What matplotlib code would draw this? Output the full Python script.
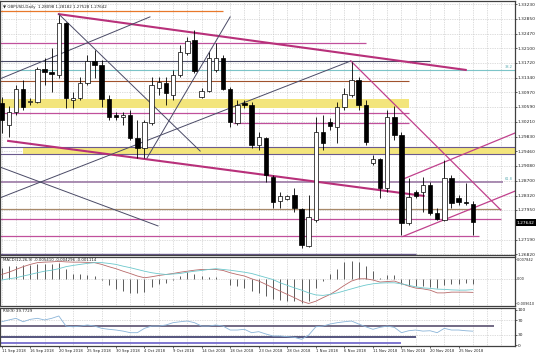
import matplotlib
matplotlib.use("Agg")
import matplotlib.pyplot as plt
import numpy as np
from matplotlib.patches import Rectangle

# ---------------- data ----------------
opens = [1.3069, 1.3013, 1.3046, 1.3105, 1.3072, 1.3072, 1.3156, 1.3149, 1.3141, 1.3274,
         1.3077, 1.3082, 1.3121, 1.3177, 1.3167, 1.3080, 1.3038, 1.3033, 1.3038, 1.2979,
         1.2954, 1.3018, 1.3108, 1.3121, 1.3090, 1.3141, 1.3197, 1.3231, 1.3085, 1.3100,
         1.3154, 1.3185, 1.3105, 1.3018, 1.3069, 1.3064, 1.2962, 1.2979, 1.2880, 1.2818,
         1.2823, 1.2833, 1.2797, 1.2703, 1.2769, 1.2995, 1.3021, 1.3008, 1.3059, 1.3090,
         1.3128, 1.3064, 1.2915, 1.2926, 1.2851, 1.3033, 1.2987, 1.2761, 1.2841, 1.2841,
         1.2859, 1.2787, 1.2769, 1.2877, 1.2826, 1.2815, 1.2810]
highs = [1.3085, 1.3062, 1.3115, 1.3128, 1.3082, 1.3161, 1.3185, 1.3210, 1.3295, 1.3276,
         1.3097, 1.3136, 1.3192, 1.3205, 1.3179, 1.3090, 1.3046, 1.3046, 1.3051, 1.3026,
         1.3026, 1.3136, 1.3136, 1.3136, 1.3154, 1.3218, 1.3238, 1.3256, 1.3108, 1.3200,
         1.3223, 1.3192, 1.3110, 1.3077, 1.3077, 1.3072, 1.2995, 1.2982, 1.2885, 1.2841,
         1.2833, 1.2851, 1.2800, 1.2833, 1.3033, 1.3038, 1.3031, 1.3072, 1.3108, 1.3174,
         1.3136, 1.3077, 1.2936, 1.2928, 1.3051, 1.3062, 1.2995, 1.2877, 1.2846, 1.2880,
         1.2867, 1.2800, 1.2923, 1.2885, 1.2833, 1.2864, 1.2818]
lows = [1.2992, 1.2982, 1.3038, 1.3051, 1.3064, 1.3069, 1.3115, 1.3097, 1.3133, 1.3056,
        1.3056, 1.3077, 1.3115, 1.3133, 1.3059, 1.3026, 1.3026, 1.3013, 1.2974, 1.2928,
        1.2928, 1.3013, 1.3090, 1.3064, 1.3077, 1.3136, 1.3192, 1.3146, 1.3082, 1.3097,
        1.3149, 1.3103, 1.3008, 1.3013, 1.3056, 1.2954, 1.2949, 1.2867, 1.2800, 1.2800,
        1.2820, 1.2790, 1.2697, 1.2700, 1.2764, 1.2949, 1.3000, 1.2967, 1.3051, 1.3085,
        1.3051, 1.2962, 1.2910, 1.2826, 1.2841, 1.2974, 1.2731, 1.2756, 1.2826, 1.2790,
        1.2782, 1.2769, 1.2766, 1.2800, 1.2808, 1.2808, 1.2731]
closes = [1.3026, 1.3046, 1.3105, 1.3059, 1.3074, 1.3156, 1.3149, 1.3143, 1.3274, 1.3082,
          1.3082, 1.3121, 1.3177, 1.3167, 1.3080, 1.3033, 1.3033, 1.3038, 1.2979, 1.2954,
          1.3021, 1.3115, 1.3123, 1.3095, 1.3141, 1.3200, 1.3228, 1.3151, 1.3100, 1.3185,
          1.3185, 1.3105, 1.3021, 1.3064, 1.3064, 1.2962, 1.2982, 1.2885, 1.2815, 1.2831,
          1.2831, 1.2800, 1.2705, 1.2777, 1.2995, 1.2967, 1.3010, 1.3059, 1.3092, 1.3128,
          1.3064, 1.2969, 1.2926, 1.2851, 1.3033, 1.2987, 1.2761, 1.2828, 1.2831, 1.2859,
          1.2787, 1.2772, 1.2877, 1.2813, 1.2815, 1.2813, 1.27642]

macd_hist = [0.0044, 0.0050, 0.0050, 0.0053, 0.0053, 0.0057, 0.0057, 0.0057, 0.0064, 0.0037,
             0.0017, 0.0017, 0.0013, 0.0011, -0.0003, -0.0024, -0.0040, -0.0049, -0.0058, -0.0058,
             -0.0053, -0.0033, -0.0022, -0.0016, -0.0003, 0.0011, 0.0026, 0.0017, 0.0011, 0.0008,
             0.0008, 0.0000, -0.0026, -0.0029, -0.0036, -0.0049, -0.0056, -0.0069, -0.0082, -0.0085,
             -0.0089, -0.0089, -0.0095, -0.0089, -0.0036, -0.0007, 0.0017, 0.0037, 0.0066, 0.0070,
             0.0066, 0.0050, 0.0030, 0.0002, 0.0013, 0.0013, -0.0022, -0.0029, -0.0029, -0.0029,
             -0.0032, -0.0036, -0.0026, -0.0022, -0.0022, -0.0016, -0.0019]
macd_main = [0.0017, 0.0026, 0.0037, 0.0048, 0.0057, 0.0064, 0.0066, 0.0067, 0.0069, 0.0067,
             0.0066, 0.0066, 0.0065, 0.0064, 0.0057, 0.0048, 0.0040, 0.0030, 0.0021, 0.0011,
             0.0004, 0.0008, 0.0013, 0.0017, 0.0021, 0.0026, 0.0030, 0.0034, 0.0037, 0.0037,
             0.0037, 0.0033, 0.0024, 0.0017, 0.0011, 0.0000, -0.0009, -0.0022, -0.0036, -0.0049,
             -0.0062, -0.0075, -0.0089, -0.0098, -0.0089, -0.0075, -0.0062, -0.0045, -0.0026, -0.0009,
             0.0000, 0.0000, -0.0005, -0.0013, -0.0011, -0.0009, -0.0019, -0.0029, -0.0037, -0.0040,
             -0.0045, -0.0056, -0.0056, -0.0053, -0.0053, -0.0053, -0.0054]
macd_signal = [-0.0005, 0.0000, 0.0004, 0.0011, 0.0017, 0.0024, 0.0030, 0.0034, 0.0040, 0.0048,
               0.0053, 0.0057, 0.0061, 0.0064, 0.0064, 0.0061, 0.0057, 0.0050, 0.0044, 0.0037,
               0.0030, 0.0024, 0.0020, 0.0017, 0.0019, 0.0021, 0.0026, 0.0030, 0.0033, 0.0037,
               0.0040, 0.0037, 0.0034, 0.0030, 0.0026, 0.0021, 0.0013, 0.0005, -0.0003, -0.0016,
               -0.0026, -0.0036, -0.0045, -0.0056, -0.0064, -0.0066, -0.0062, -0.0056, -0.0048, -0.0040,
               -0.0032, -0.0025, -0.0020, -0.0017, -0.0016, -0.0016, -0.0020, -0.0026, -0.0032, -0.0036,
               -0.0038, -0.0041, -0.0042, -0.0044, -0.0045, -0.0045, -0.0043]
rsi = [66, 71, 75.5, 66, 72.7, 75.5, 71, 75.5, 82, 54,
       52, 54, 57, 54, 47.7, 45, 43, 40, 35.6, 35.6,
       47.7, 54, 54, 57, 63.4, 66, 68, 63.4, 54, 54,
       57, 54, 43, 43, 45, 35.6, 38.4, 32, 26.4, 26.4,
       24.5, 22.7, 17.1, 29, 52, 54, 59.7, 63.4, 66, 68,
       59.7, 52, 45, 50.5, 54, 50.5, 35.6, 41, 43, 40,
       41, 35.6, 47.7, 43, 43, 41, 39.8]

date_labels = ["11 Sep 2018", "16 Sep 2018", "20 Sep 2018", "25 Sep 2018", "30 Sep 2018",
               "4 Oct 2018", "9 Oct 2018", "14 Oct 2018", "18 Oct 2018", "23 Oct 2018",
               "28 Oct 2018", "1 Nov 2018", "6 Nov 2018", "11 Nov 2018", "15 Nov 2018",
               "20 Nov 2018", "25 Nov 2018"]
date_label_bars = list(range(0, 68, 4))
price_ticks = [1.33230, 1.32850, 1.32470, 1.32100, 1.31720, 1.31340, 1.30970, 1.30590,
               1.30210, 1.29830, 1.29460, 1.29080, 1.28700, 1.28320, 1.27950, 1.27190, 1.26820]
macd_ticks = [0.007842, 0.0, -0.009610]
macd_tick_labels = ["0.007842", "0.00", "-0.009610"]
rsi_ticks = [100, 70, 30, 0]

# drawn objects (price, from bar, to bar, colour, width)
h_levels = [
    (1.3305, -0.3, 31.0, '#e8782a', 0.9),
    (1.3223, -0.3, 51.0, '#c0509c', 0.9),
    (1.3177, -0.3, 60.0, '#4a4a66', 0.8),
    (1.3153, -0.3, 72.0, '#7cc4c8', 0.8),
    (1.3126, -0.3, 57.1, '#a0522d', 0.8),
    (1.3044, -0.3, 57.1, '#c0509c', 0.9),
    (1.3018, 32.4, 57.1, '#c0509c', 0.9),
    (1.2957, -0.3, 72.0, '#6a5a8e', 0.8),
    (1.2939, -0.3, 72.0, '#6a5a8e', 0.8),
    (1.2867, -0.3, 70.2, '#9c7aa6', 1.2),
    (1.2797, -0.3, 69.9, '#a88a6a', 0.9),
    (1.2772, -0.3, 69.9, '#c0509c', 0.9),
    (1.2728, -0.3, 66.8, '#c0509c', 0.9),
    (1.2682, -0.3, 58.0, '#6a5a8e', 1.0),
]
bands = [(1.3056, 1.3080, -0.3, 57.1), (1.2939, 1.2957, 3.0, 72.0)]
trend_lines = [
    (8.0, 1.3297, 65.0, 1.3154, '#b8307a', 1.5),
    (0.9, 1.2972, 59.1, 1.2831, '#b8307a', 1.5),
    (8.0, 1.3297, 27.8, 1.2946, '#4a4a66', 0.7),
    (20.35, 1.2928, 32.0, 1.3290, '#4a4a66', 0.7),
    (-0.24, 1.3131, 20.77, 1.3290, '#4a4a66', 0.7),
    (-0.24, 1.2826, 48.9, 1.3177, '#4a4a66', 0.7),
    (-0.24, 1.2905, 21.9, 1.2754, '#4a4a66', 0.7),
    (48.9, 1.3177, 69.9, 1.2795, '#c0408c', 0.9),
    (56.2, 1.2874, 72.0, 1.2993, '#c0408c', 0.9),
    (56.2, 1.2727, 72.0, 1.2844, '#c0408c', 0.9),
]
rsi_levels = [(54.2, -0.3, 69.0, '#5a5070', 1.2), (24.4, -0.3, 58.0, '#383868', 1.2),
              (7.8, -0.3, 56.0, '#6a60c8', 1.2)]

# ---------------- figure ----------------
W, H = 536, 357
fig = plt.figure(figsize=(W / 100, H / 100), dpi=100)
fig.patch.set_facecolor('white')

def fy(py):
    return 1 - py / H

axw = 515 / W
ax = fig.add_axes([0, fy(255), axw, (255 - 1) / H])
axm = fig.add_axes([0, fy(306), axw, (306 - 256.5) / H])
axr = fig.add_axes([0, fy(346), axw, (346 - 307.5) / H])

n = len(closes)
x = np.arange(n)
o = np.array(opens); c = np.array(closes); hh = np.array(highs); ll = np.array(lows)
XL = (-0.24, 71.9)

grid_kw = dict(color='#bdbdbd', linestyle=(0, (1, 1.5)), linewidth=0.5)
for a in (ax, axm, axr):
    a.set_xlim(*XL)
    a.set_xticks(range(0, 72, 2), minor=True)
    a.grid(True, which='minor', axis='x', **grid_kw)
    a.set_axisbelow(True)
    for s in a.spines.values():
        s.set_color('#404040')
        s.set_linewidth(0.9)
    a.yaxis.tick_right()
    a.tick_params(axis='y', which='major', direction='out', length=1.5, width=0.5,
                  pad=0.6, labelsize=3.2, colors='#222222')
    a.tick_params(axis='x', which='minor', length=0)

# price panel
ax.set_ylim(1.26795, 1.33307)
ax.set_yticks(price_ticks)
ax.set_yticklabels([f"{v:.5f}" for v in price_ticks])
ax.grid(True, which='major', axis='y', **grid_kw)
ax.set_xticks([])

for lo, hi, x0, x1 in bands:
    ax.fill_between([x0, x1], lo, hi, color='#f3e57c', lw=0, zorder=1)
for p, x0, x1, col, lw in h_levels:
    ax.plot([x0, x1], [p, p], color=col, lw=lw, zorder=2, solid_capstyle='butt')
for x0, p0, x1, p1, col, lw in trend_lines:
    ax.plot([x0, x1], [p0, p1], color=col, lw=lw, zorder=2)

up = c >= o
body_lo = np.minimum(o, c)
body_h = np.maximum(np.abs(c - o), 0.00007)
ax.vlines(x, ll, hh, color='black', lw=0.6, zorder=3)
ax.bar(x, body_h, bottom=body_lo, width=0.62,
       color=['white' if u else 'black' for u in up],
       edgecolor='black', linewidth=0.5, zorder=4)

ax.text(0.006, 0.985, "\u25bc GBPUSD,Daily  1.28098 1.28182 1.27528 1.27642",
        transform=ax.transAxes, fontsize=2.9, va='top', ha='left', color='#222222')
ax.text(71.6, 1.3156, "38.2", fontsize=2.6, color='#5aaab0', ha='right', va='bottom', zorder=5)
ax.text(71.6, 1.2869, "61.8", fontsize=2.6, color='#5aaab0', ha='right', va='bottom', zorder=5)

# current price box
fig.add_artist(Rectangle((515.5 / W, fy(226)), 20.5 / W, 7 / H, transform=fig.transFigure,
                         facecolor='black', edgecolor='black', lw=0))
fig.text(517 / W, fy(222.5), "1.27642", fontsize=3.2, color='white', va='center', ha='left')

# MACD panel
axm.set_ylim(-0.010798, 0.008834)
axm.vlines(x, 0, macd_hist, color='#5a5a5a', lw=0.7, zorder=3)
axm.plot(x, macd_main, color='#b86a6a', lw=0.6, zorder=4)
axm.plot(x, macd_signal, color='#6cc8cc', lw=0.6, zorder=4)
axm.set_yticks(macd_ticks)
axm.set_yticklabels(macd_tick_labels)
axm.tick_params(axis='y', which='major', length=1.0, pad=0.3, labelsize=2.55)
axm.axhline(0, **grid_kw)
axm.set_xticks([])
axm.text(0.006, 0.96, "MACD(12,26,9) -0.005410 -0.004296 -0.001114", transform=axm.transAxes,
         fontsize=2.8, va='top', ha='left', color='#222222')

# RSI panel
axr.set_ylim(-1.4, 105.6)
for lv in (70, 30):
    axr.axhline(lv, **grid_kw)
for p, x0, x1, col, lw in rsi_levels:
    axr.plot([x0, x1], [p, p], color=col, lw=lw, zorder=2, solid_capstyle='butt')
axr.plot(x, rsi, color='#8ab4d8', lw=0.6, zorder=4)
axr.set_yticks(rsi_ticks)
axr.set_yticklabels([str(v) for v in rsi_ticks])
axr.text(0.006, 0.95, "RSI(9) 39.7729", transform=axr.transAxes,
         fontsize=2.8, va='top', ha='left', color='#222222')
axr.set_xticks(date_label_bars)
axr.set_xticklabels(date_labels)
axr.tick_params(axis='x', which='major', direction='out', length=1.5, width=0.5, pad=0.8,
                labelsize=2.7, colors='#222222')
for t in axr.get_xticklabels():
    t.set_ha('left')

fig.savefig("out.png", dpi=100, facecolor='white')
